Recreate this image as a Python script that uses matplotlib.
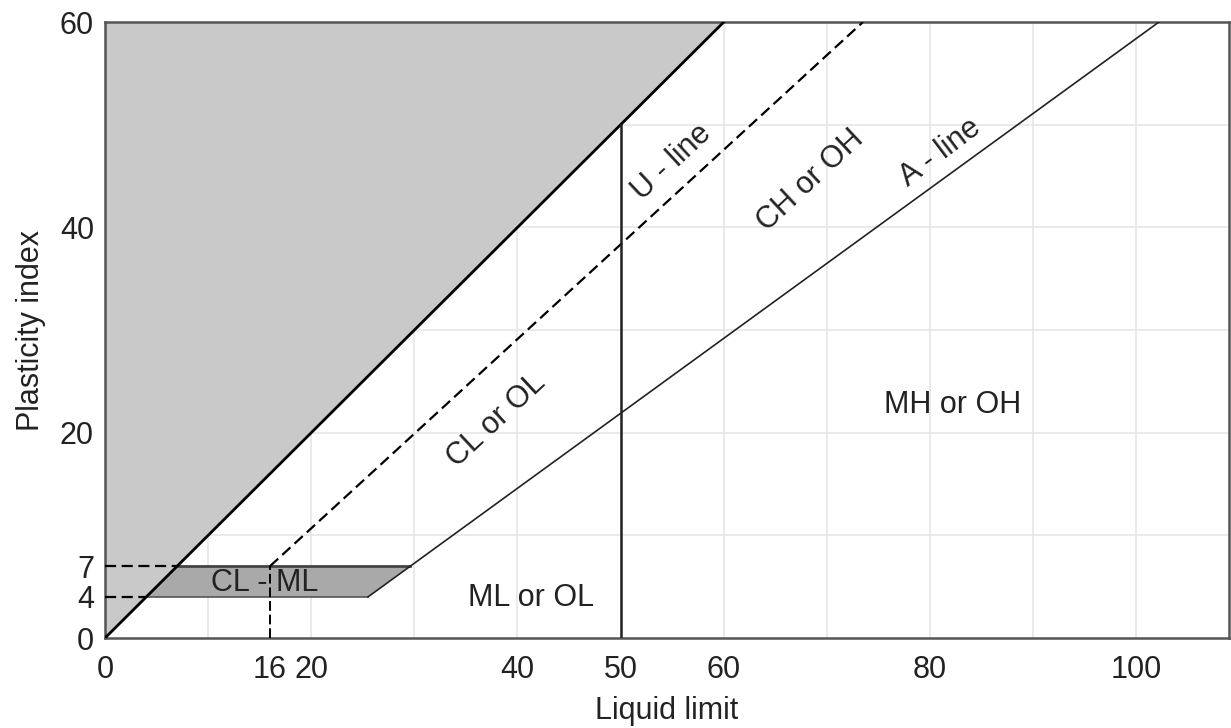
import numpy as np
import matplotlib.pyplot as plt

plt.rcParams['font.family'] = ['Liberation Sans', 'DejaVu Sans']

# axis ticks
x_ticks = [0, 16, 20, 40, 50, 60, 80, 100]
y_ticks = [0, 4, 7, 20, 40, 60]

# chart lines (liquid limit, plasticity index)
ll_max = 109
pi_max = 60
u_line_ll = [16, 73.5]
u_line_pi = [7, 60]
a_line_ll = [25.5, 102.2]
a_line_pi = [4, 60]
eq_line_ll = [0, 60]
eq_line_pi = [0, 60]
band_ll = [4, 25.5, 29.6, 7]
band_pi = [4, 4, 7, 7]
ll_split = 50
pi_split_top = 50

# zone labels: text, x, y, rotation
zones = [
    ("U - line", 55.0, 46.3, 43),
    ("CH or OH", 68.4, 44.6, 43),
    ("A - line", 81.0, 47.3, 37),
    ("CL or OL", 38.0, 21.2, 43),
    ("MH or OH", 82.2, 22.7, 0),
    ("ML or OL", 41.3, 3.9, 0),
    ("CL - ML", 15.5, 5.4, 0),
]

fig = plt.figure(figsize=(12.31, 7.28), dpi=100)
ax = fig.add_axes([0.0853, 0.1236, 0.913, 0.846])
ax.set_xlim(0, ll_max)
ax.set_ylim(0, pi_max)

# grid
for gx in range(10, 110, 10):
    ax.axvline(gx, color="#e6e6e6", lw=1.2, zorder=0)
for gy in range(10, 60, 10):
    ax.axhline(gy, color="#e6e6e6", lw=1.2, zorder=0)

# shaded region above PI = LL
ax.fill([0, 0, 60], [0, 60, 60], color="#c9c9c9", zorder=1, lw=0)
# CL-ML band
ax.fill(band_ll, band_pi, color="#a9a9a9", zorder=2, lw=0)
ax.plot([band_ll[3], band_ll[2]], [7, 7], color="#444444", lw=2.0, zorder=3)
ax.plot([band_ll[0], band_ll[1]], [4, 4], color="#555555", lw=1.2, zorder=3)

ax.plot(eq_line_ll, eq_line_pi, color="black", lw=2.0, zorder=4)
ax.plot(u_line_ll, u_line_pi, color="black", lw=1.6, ls=(0, (5, 2.5)), zorder=4)
ax.plot(a_line_ll, a_line_pi, color="#222222", lw=1.2, zorder=4)
ax.plot([ll_split, ll_split], [0, pi_split_top], color="#222222", lw=1.8, zorder=4)

# dashed guides
ax.plot([0, 7], [7, 7], color="black", lw=1.6, ls=(0, (5, 2.5)), zorder=4)
ax.plot([0, 4], [4, 4], color="black", lw=1.6, ls=(0, (5, 2.5)), zorder=4)
ax.plot([16, 16], [0, 7], color="black", lw=1.4, ls=(0, (5, 2)), zorder=4)

for txt, tx, ty, rot in zones:
    ax.text(tx, ty, txt, fontsize=22, color="#222222", rotation=rot,
            ha="center", va="center", rotation_mode="anchor", zorder=5)

ax.set_xticks(x_ticks)
ax.set_yticks(y_ticks)
ax.tick_params(length=0, labelsize=22, colors="#222222", pad=12)
ax.tick_params(axis="y", pad=8)
for s in ax.spines.values():
    s.set_color("#555555")
    s.set_linewidth(1.8)
ax.set_xlabel("Liquid limit", fontsize=22, color="#222222", labelpad=8)
ax.set_ylabel("Plasticity index", fontsize=22, color="#222222", labelpad=10)

fig.savefig("out.png", dpi=100)
